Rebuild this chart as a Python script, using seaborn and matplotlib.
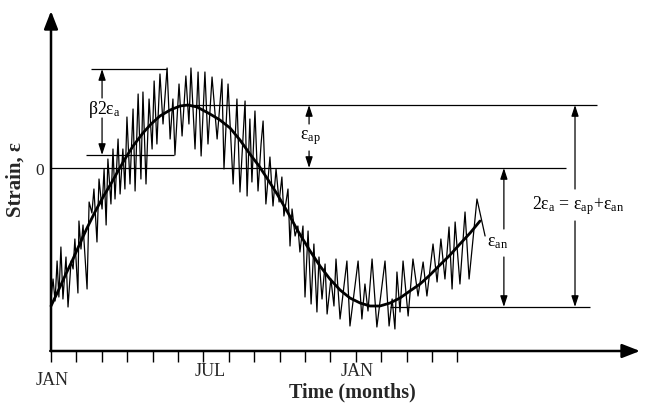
"""
Schematic of seasonal strain: daily (jagged) strain riding on the
smooth annual cycle, with the amplitude definitions marked.
"""

import matplotlib
matplotlib.use("Agg")
import matplotlib.pyplot as plt
import seaborn as sns

# smooth annual strain cycle (x = months from first JAN, y = strain, arb. units)
mean_months = [0.00, 0.28, 0.55, 0.83, 1.06, 1.38, 1.73, 2.05, 2.40, 2.64,
               2.91, 3.23, 3.62, 3.94, 4.29, 4.69, 5.08, 5.39, 5.75, 6.26,
               6.65, 7.05, 7.44, 7.83, 8.19, 8.50, 8.90, 9.29, 9.72, 10.20,
               10.59, 10.98, 11.38, 11.77, 12.17, 12.56, 12.95, 13.35, 13.74, 14.13,
               14.53, 14.92, 15.31, 15.71, 16.10, 16.50, 16.89]
mean_strain = [-1.38, -1.23, -1.08, -0.93, -0.80, -0.62, -0.44, -0.29, -0.14, -0.03,
               0.09, 0.22, 0.35, 0.44, 0.52, 0.58, 0.62, 0.63, 0.61, 0.54,
               0.48, 0.40, 0.28, 0.14, 0.02, -0.10, -0.26, -0.43, -0.63, -0.83,
               -0.98, -1.11, -1.22, -1.30, -1.35, -1.38, -1.38, -1.35, -1.30, -1.23,
               -1.16, -1.07, -0.97, -0.87, -0.76, -0.65, -0.53]

# daily strain (jagged line)
daily_months = [0.00, 0.08, 0.16, 0.24, 0.31, 0.39, 0.47, 0.59, 0.67, 0.79,
                0.87, 0.94, 1.06, 1.10, 1.18, 1.26, 1.42, 1.50, 1.61, 1.69,
                1.81, 1.89, 2.01, 2.09, 2.17, 2.24, 2.36, 2.44, 2.52, 2.64,
                2.72, 2.83, 2.91, 2.99, 3.11, 3.23, 3.31, 3.43, 3.54, 3.62,
                3.74, 3.86, 3.98, 4.06, 4.17, 4.29, 4.41, 4.57, 4.69, 4.80,
                4.88, 5.04, 5.16, 5.31, 5.43, 5.51, 5.67, 5.79, 5.91, 6.06,
                6.18, 6.34, 6.54, 6.73, 6.81, 6.97, 7.17, 7.32, 7.44, 7.64,
                7.72, 7.83, 7.91, 8.03, 8.15, 8.27, 8.35, 8.46, 8.62, 8.74,
                8.86, 8.98, 9.09, 9.17, 9.33, 9.41, 9.49, 9.61, 9.72, 9.80,
                9.92, 10.00, 10.12, 10.24, 10.35, 10.47, 10.55, 10.67, 10.79, 10.87,
                11.02, 11.14, 11.22, 11.38, 11.65, 11.77, 12.09, 12.24, 12.36, 12.48,
                12.64, 12.83, 13.15, 13.31, 13.43, 13.54, 13.62, 13.74, 13.86, 14.06,
                14.25, 14.45, 14.65, 14.80, 15.04, 15.20, 15.35, 15.51, 15.67, 15.79,
                15.91, 16.10, 16.30, 16.46, 16.77, 17.09]
daily_strain = [-1.31, -1.11, -1.33, -0.93, -1.29, -0.79, -1.31, -0.89, -1.39, -0.93,
                -1.01, -0.71, -1.25, -0.53, -0.81, -0.57, -1.21, -0.34, -0.45, -0.21,
                -0.74, -0.11, -0.41, -0.01, -0.57, 0.09, -0.36, 0.19, -0.31, 0.29,
                -0.26, 0.19, -0.21, 0.51, -0.16, 0.59, -0.23, 0.74, -0.11, 0.76,
                -0.16, 0.69, 0.19, 0.87, 0.24, 0.94, 0.44, 1.00, 0.29, 0.69,
                0.13, 0.84, 0.32, 0.92, 0.44, 1.00, 0.19, 0.96, 0.12, 0.96,
                0.24, 0.91, 0.29, 0.89, -0.01, 0.84, -0.16, 0.69, -0.24, 0.67,
                -0.28, 0.49, -0.14, 0.57, -0.23, 0.24, 0.47, -0.36, 0.11, -0.38,
                -0.01, -0.34, -0.09, -0.48, -0.21, -0.78, -0.41, -0.68, -0.58, -0.84,
                -0.58, -1.29, -0.63, -1.36, -0.76, -1.44, -0.89, -1.31, -0.96, -1.46,
                -1.11, -1.38, -0.91, -1.51, -0.93, -1.58, -0.93, -1.51, -1.16, -1.43,
                -0.91, -1.59, -0.93, -1.58, -1.31, -1.61, -1.04, -1.44, -0.93, -1.48,
                -0.91, -1.28, -0.94, -1.28, -0.76, -1.14, -0.71, -1.11, -0.59, -1.21,
                -0.54, -1.16, -0.44, -1.11, -0.31, -0.68]

month_ticks = list(range(17))
month_labels = ["JAN", "JUL", "JAN"]
label_months = [0.04, 6.26, 12.05]

# amplitude levels
eps_ap = 0.63       # peak of smooth cycle
eps_an = -1.39      # trough of smooth cycle
beta_top = 0.99     # daily range, top
beta_bottom = 0.13  # daily range, bottom

sns.set_theme(style="white")
plt.rcParams["font.family"] = ["Liberation Serif", "DejaVu Serif"]
plt.rcParams["mathtext.fontset"] = "custom"
plt.rcParams["mathtext.rm"] = "Liberation Serif"
plt.rcParams["mathtext.it"] = "Liberation Serif:italic"

fig = plt.figure(figsize=(6.46, 4.06), dpi=100)
ax = fig.add_axes([0, 0, 1, 1])
ax.set_axis_off()
ax.set_xlim(-2.008, 23.425)
ax.set_ylim(-2.37, 1.69)

sns.lineplot(x=daily_months, y=daily_strain, sort=False, estimator=None,
             color="black", lw=0.9, ax=ax)
sns.lineplot(x=mean_months, y=mean_strain, sort=False, estimator=None,
             color="black", lw=2.0, ax=ax)

# reference levels
ax.hlines(0, 0, 20.28, color="black", lw=0.9)
ax.hlines(eps_ap, 5.3, 21.5, color="black", lw=0.9)
ax.hlines(eps_an, 13.35, 21.22, color="black", lw=0.9)
ax.hlines(beta_top, 1.57, 4.57, color="black", lw=0.9)
ax.hlines(beta_bottom, 1.38, 4.84, color="black", lw=0.9)

# axes with arrow heads
big = dict(arrowstyle="-|>,head_length=0.9,head_width=0.35", lw=1.8,
           color="black", shrinkA=0, shrinkB=0)
ax.annotate("", xy=(0, 1.57), xytext=(0, -1.83), arrowprops=big)
ax.annotate("", xy=(23.19, -1.83), xytext=(-0.03, -1.83), arrowprops=big)
ax.vlines(month_ticks, -1.94, -1.83, color="black", lw=1.0)

# dimension arrows
small = dict(arrowstyle="-|>,head_length=0.55,head_width=0.18", lw=0.9,
             color="black", shrinkA=0, shrinkB=0)


def dim(x, y0, y1, gap_top, gap_bottom):
    ax.annotate("", xy=(x, y1), xytext=(x, gap_top), arrowprops=small)
    ax.annotate("", xy=(x, y0), xytext=(x, gap_bottom), arrowprops=small)


dim(2.01, beta_bottom, beta_top, 0.70, 0.50)
dim(10.16, 0, eps_ap, 0.44, 0.17)
dim(17.83, eps_an, 0, -0.61, -0.89)
dim(20.63, eps_an, eps_ap, -0.21, -0.53)

lab = dict(ha="center", va="center", fontsize=12.8, color="black")
ax.text(2.09, 0.59, r"β2ε$_{\rm a}$", **lab)
ax.text(10.2, 0.31, r"ε$_{\rm ap}$", **lab)
ax.text(17.6, -0.74, r"ε$_{\rm an}$", **lab)
ax.text(20.75, -0.37, r"2ε$_{\rm a}$ = ε$_{\rm ap}$+ε$_{\rm an}$", **lab)

# axis texts
ax.text(-0.43, -0.02, "0", ha="center", va="center", fontsize=12.5)
for i, (m, name) in enumerate(zip(label_months, month_labels)):
    y = -2.12 if i == 0 else -2.03
    ax.text(m, y, name, ha="center", va="center", fontsize=13)
ax.text(11.85, -2.23, "Time (months)", ha="center", va="center",
        fontsize=14.5, fontweight="bold")
ax.text(-1.38, -0.11, "Strain, ε", ha="center", va="center", rotation=90,
        fontsize=15, fontweight="bold")

fig.savefig("out.png", dpi=100)
